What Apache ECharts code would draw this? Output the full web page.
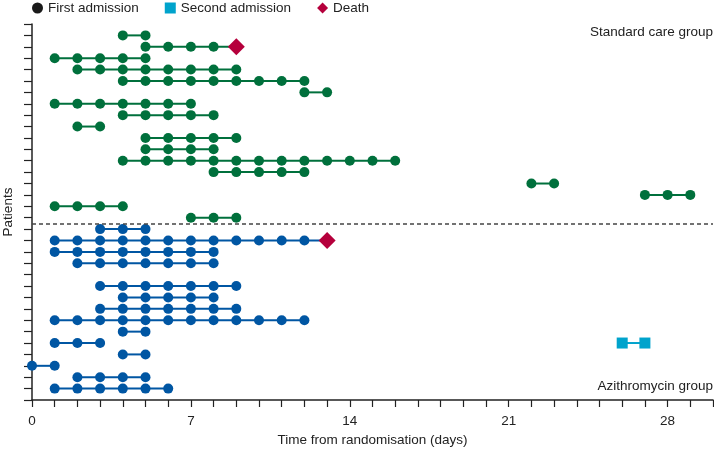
<!DOCTYPE html>
<html><head><meta charset="utf-8">
<script src="https://cdn.jsdelivr.net/npm/echarts@6/dist/echarts.min.js"></script>
<style>html,body{margin:0;padding:0;background:#fff}#c{width:714px;height:450px}</style>
</head><body><div id="c"></div><script>
// Days in hospital for each patient row, listed top to bottom
const standardRows = [
  [4,5],
  [5,6,7,8],
  [1,2,3,4,5],
  [2,3,4,5,6,7,8,9],
  [4,5,6,7,8,9,10,11,12],
  [12,13],
  [1,2,3,4,5,6,7],
  [4,5,6,7,8],
  [2,3],
  [5,6,7,8,9],
  [5,6,7,8],
  [4,5,6,7,8,9,10,11,12,13,14,15,16],
  [8,9,10,11,12],
  [22,23],
  [27,28,29],
  [1,2,3,4],
  [7,8,9]
];
const azithroRows = [
  [3,4,5],
  [1,2,3,4,5,6,7,8,9,10,11,12],
  [1,2,3,4,5,6,7,8],
  [2,3,4,5,6,7,8],
  [],
  [3,4,5,6,7,8,9],
  [4,5,6,7,8],
  [3,4,5,6,7,8,9],
  [1,2,3,4,5,6,7,8,9,10,11,12],
  [4,5],
  [1,2,3],
  [4,5],
  [0,1],
  [2,3,4,5],
  [1,2,3,4,5,6]
];
// [row index (0-based from top of group), day of death]
const standardDeaths = [[1, 9]];
const azithroDeaths = [[1, 13]];
// [row index in azithromycin group, days of second admission]
const secondAdmissions = [[10, [26,27]]];
const xTickLabels = [0,7,14,21,28];
const legendNames = ['First admission','Second admission','Death'];
const groupNames = ['Standard care group','Azithromycin group'];

const GREEN = '#00703c', BLUE = '#0056a3', RED = '#b5003c', CYAN = '#00a3cc';
const FONT = 'Liberation Sans, Arial, sans-serif';
const stdY = i => 32 - i;
const azY = i => 15 - i;

const series = [];
function addRows(rows, yf, deaths, color) {
  rows.forEach((days, i) => {
    if (!days.length) return;
    const data = days.map(d => [d, yf(i)]);
    deaths.forEach(([r, d]) => { if (r === i) data.push({ value: [d, yf(i)], symbol: 'none' }); });
    series.push({
      type: 'line', data, symbol: 'circle', symbolSize: 10, showSymbol: true,
      lineStyle: { color, width: 2 }, itemStyle: { color, opacity: 1 }, silent: true, z: 2
    });
  });
}
addRows(standardRows, stdY, standardDeaths, GREEN);
addRows(azithroRows, azY, azithroDeaths, BLUE);

series.push({ name: legendNames[0], type: 'scatter', data: [], itemStyle: { color: '#1a1a1a', opacity: 1 } });
secondAdmissions.forEach(([r, days], k) => {
  series.push({
    name: legendNames[1], type: 'line', data: days.map(d => [d, azY(r)]),
    symbol: 'rect', symbolSize: 11, lineStyle: { color: CYAN, width: 2 },
    itemStyle: { color: CYAN, opacity: 1 }, z: 3
  });
});
series.push({
  name: legendNames[2], type: 'scatter', symbol: 'diamond', symbolSize: 17,
  data: standardDeaths.map(([r, d]) => [d, stdY(r)]).concat(azithroDeaths.map(([r, d]) => [d, azY(r)])),
  itemStyle: { color: RED, opacity: 1 }, z: 4,
  markLine: {
    silent: true, symbol: 'none', label: { show: false },
    lineStyle: { color: '#444', type: [4, 3], width: 1.5 },
    data: [{ yAxis: 15.5 }]
  }
});

const chart = echarts.init(document.getElementById('c'), null, { renderer: 'canvas' });
chart.setOption({
  animation: false,
  textStyle: { fontFamily: FONT },
  grid: { left: 32, right: 1, top: 24, bottom: 50, containLabel: false, outerBoundsMode: 'none' },
  legend: {
    left: 27, top: -4, itemWidth: 11, itemHeight: 11, itemGap: 26,
    textStyle: { fontSize: 13.5, color: '#222', fontFamily: FONT },
    data: [
      { name: legendNames[0], icon: 'circle', itemStyle: { color: '#1a1a1a', opacity: 1 } },
      { name: legendNames[1], icon: 'rect', itemStyle: { color: CYAN, opacity: 1 } },
      { name: legendNames[2], icon: 'diamond', itemStyle: { color: RED, opacity: 1 } }
    ]
  },
  xAxis: {
    type: 'value', min: 0, max: 30, interval: 1,
    name: 'Time from randomisation (days)', nameLocation: 'middle', nameGap: 31,
    nameTextStyle: { fontSize: 13.5, color: '#222', fontFamily: FONT },
    axisLine: { show: true, lineStyle: { color: '#222', width: 1.5 } },
    axisTick: { show: true, length: 7, lineStyle: { color: '#222', width: 1.2 } },
    axisLabel: { margin: 14, fontSize: 13.5, color: '#222', fontFamily: FONT,
      formatter: v => xTickLabels.includes(v) ? String(v) : '' },
    splitLine: { show: false }
  },
  yAxis: {
    type: 'value', min: 0, max: 33, interval: 1,
    name: 'Patients', nameLocation: 'middle', nameGap: 17,
    nameTextStyle: { fontSize: 13.5, color: '#222', fontFamily: FONT },
    axisLine: { show: true, lineStyle: { color: '#222', width: 1.5 } },
    axisTick: { show: true, length: 8, lineStyle: { color: '#222', width: 1.2 } },
    axisLabel: { show: false },
    splitLine: { show: false }
  },
  graphic: [
    { type: 'text', right: 1, top: 25, style: { text: groupNames[0], font: '13.5px ' + FONT, fill: '#222' } },
    { type: 'text', right: 1, top: 379, style: { text: groupNames[1], font: '13.5px ' + FONT, fill: '#222' } }
  ],
  series
});
</script></body></html>
